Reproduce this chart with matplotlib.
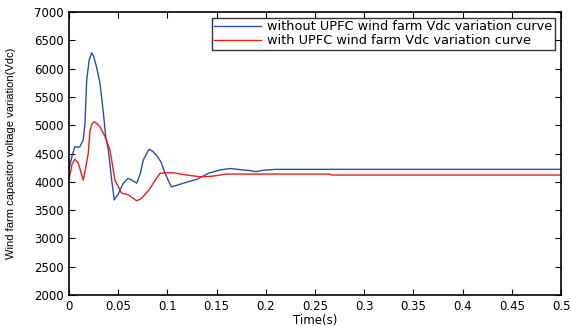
import numpy as np
import matplotlib.pyplot as plt
from matplotlib.ticker import FormatStrFormatter

plt.rcParams['font.family'] = ['DejaVu Sans']

# without UPFC (blue)
t_blue = [0.0, 0.003, 0.006, 0.009, 0.011, 0.013, 0.0145, 0.0163, 0.018, 0.0205, 0.023, 0.025,
          0.028, 0.0315, 0.035, 0.0373, 0.040, 0.0434, 0.046, 0.050, 0.055, 0.060, 0.064,
          0.0688, 0.0725, 0.0755, 0.0813, 0.085, 0.089, 0.0935, 0.0976, 0.104, 0.110, 0.116,
          0.123, 0.130, 0.1416, 0.1535, 0.1636, 0.177, 0.183, 0.19, 0.1975, 0.21, 0.5]
v_blue = [4220, 4450, 4620, 4610, 4620, 4690, 4740, 5040, 5800, 6150, 6280, 6220,
          6030, 5740, 5210, 4800, 4560, 4030, 3680, 3780, 3970, 4060, 4030,
          3975, 4150, 4385, 4575, 4540, 4470, 4350, 4150, 3910, 3940, 3975,
          4010, 4045, 4150, 4210, 4235, 4210, 4200, 4180, 4205, 4220, 4220]

# with UPFC (red)
t_red = [0.0, 0.003, 0.006, 0.0095, 0.012, 0.0145, 0.017, 0.0196, 0.0213, 0.0235, 0.0257,
         0.0285, 0.0315, 0.0366, 0.0417, 0.0467, 0.0535, 0.0603, 0.065, 0.0688, 0.073, 0.077,
         0.0815, 0.0857, 0.0925, 0.098, 0.106, 0.1196, 0.133, 0.143, 0.150, 0.160, 0.265,
         0.267, 0.5]
v_red = [4030, 4300, 4400, 4330, 4180, 4030, 4250, 4500, 4900, 5030, 5060,
         5030, 4970, 4800, 4560, 4030, 3800, 3770, 3710, 3665, 3700, 3770,
         3860, 3975, 4150, 4160, 4160, 4120, 4090, 4095, 4110, 4137, 4137,
         4120, 4120]

fig = plt.figure(figsize=(5.71, 3.26), dpi=100)
ax = fig.add_axes([0.1208, 0.0951, 0.8617, 0.868])

ax.plot(t_blue, v_blue, color='#2a4eb0', lw=1.0,
        label='without UPFC wind farm Vdc variation curve')
ax.plot(t_red, v_red, color='#f01c1c', lw=1.0,
        label='with UPFC wind farm Vdc variation curve')

ax.set_xlim(0, 0.5)
ax.set_ylim(2000, 7000)
ax.set_xticks(np.arange(0, 0.501, 0.05))
ax.set_yticks(np.arange(2000, 7001, 500))
ax.xaxis.set_major_formatter(FormatStrFormatter('%g'))
ax.tick_params(direction='in', top=True, right=True, labelsize=8.5, length=4, width=0.8)
for s in ax.spines.values():
    s.set_linewidth(1.2)

ax.set_xlabel('Time(s)', fontsize=8.5, labelpad=1)
ax.set_ylabel('Wind farm capasitor voltage variation(Vdc)', fontsize=8,
              family='Liberation Sans', labelpad=13)

leg = ax.legend(loc='upper right', fontsize=9.3, frameon=True, fancybox=False,
                edgecolor='black', borderaxespad=0.45, handlelength=3.6,
                borderpad=0.2, labelspacing=0.05, handletextpad=0.5)
leg.get_frame().set_linewidth(1.0)

fig.savefig('out.png', dpi=100)
